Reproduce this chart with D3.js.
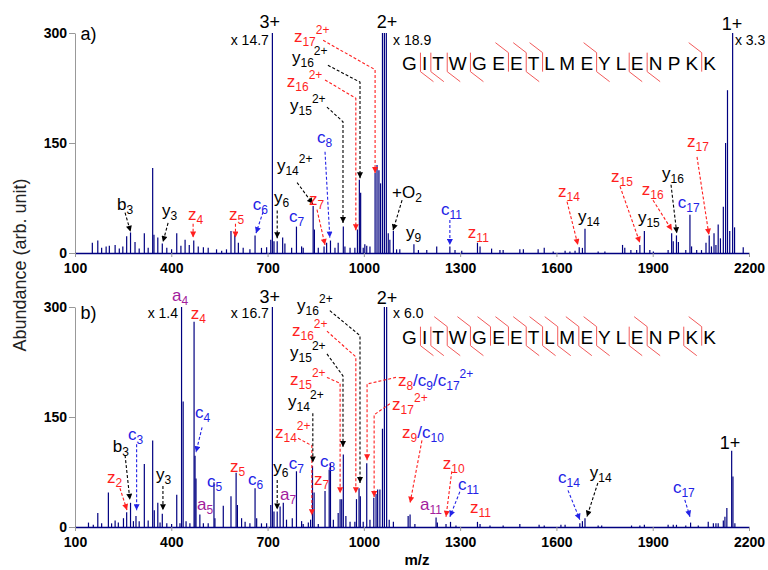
<!DOCTYPE html>
<html>
<head>
<meta charset="utf-8">
<script src="https://cdn.jsdelivr.net/npm/d3@7"></script>
<style>
  body { margin: 0; background: #fff; }
  text { font-family: "Liberation Sans", Arial, sans-serif; }
</style>
</head>
<body>
<div id="chart"></div>
<script>
// axis values
const ticksX = [100, 400, 700, 1000, 1300, 1600, 1900, 2200];
const ticksY = [0, 150, 300];
const sequence = "GITWGEETLMEYLENPKK";

// spectrum a) : [m/z, abundance]
const peaksA = [
  [154,14],[171,17],[183,7],[197,9],[207,10],[225,11],[238,6],[249,9],[261,23],[273,28],[287,15],[300,6],
  [316,27],[328,7],[342,116],[346,25],[358,21],[372,13],[386,7],[401,5],[417,27],[430,10],[443,18],[456,11],
  [470,17],[484,9],[500,8],[515,7],[541,5],[557,3],[572,5],[586,30],[598,25],[609,14],[624,7],[645,5],
  [661,24],[681,7],[697,8],[710,18],[715,300],[720,16],[730,16],[747,21],[754,13],[775,7],[790,36],[806,9],
  [811,7],[842,64],[846,32],[858,7],[876,9],[884,14],[896,17],[910,7],[920,14],[936,36],[941,9],[957,7],
  [972,7],[980,32],[986,100],[990,82],[998,7],[1003,12],[1009,10],[1019,9],[1035,109],[1041,120],[1047,113],
  [1052,95],[1058,300],[1064,300],[1070,300],[1076,27],[1081,18],[1092,30],[1102,5],[1112,5],[1156,12],
  [1170,4],[1196,4],[1227,9],[1268,9],[1284,4],[1305,3],[1354,14],[1362,9],[1398,6],[1424,4],[1434,4],
  [1486,5],[1497,5],[1543,5],[1562,7],[1590,2],[1627,3],[1642,2],[1658,3],[1671,8],[1681,7],[1689,33],
  [1730,2],[1751,2],[1806,11],[1813,7],[1832,4],[1850,4],[1860,11],[1874,30],[1891,4],[1902,2],[1948,4],
  [1959,27],[1964,16],[1974,24],[1980,15],[2003,4],[2016,52],[2021,9],[2037,4],[2052,4],[2066,14],[2076,24],
  [2083,9],[2091,27],[2097,11],[2104,39],[2111,20],[2120,63],[2127,150],[2133,222],[2140,30],[2149,300],
  [2155,35],[2182,8]
];

// spectrum b)
const peaksB = [
  [142,6],[157,3],[171,19],[183,5],[204,47],[214,5],[225,9],[235,6],[251,12],[261,20],[273,33],[282,8],
  [290,15],[300,8],[316,86],[328,9],[342,118],[347,23],[358,33],[365,6],[372,18],[386,5],[401,4],[417,44],
  [427,5],[432,300],[437,171],[446,8],[458,5],[471,280],[474,97],[477,66],[489,17],[500,5],[515,5],[533,61],
  [536,12],[562,29],[586,42],[602,74],[606,30],[619,12],[630,7],[645,5],[661,53],[666,12],[681,5],[697,5],
  [710,30],[715,300],[720,21],[730,21],[739,28],[749,33],[759,10],[777,12],[790,76],[806,8],[811,4],[827,6],
  [834,10],[840,83],[845,47],[858,4],[879,49],[892,78],[896,87],[905,10],[920,19],[926,38],[931,38],[936,99],
  [944,15],[957,7],[972,7],[977,38],[985,53],[989,42],[998,7],[1009,87],[1019,10],[1031,40],[1038,45],
  [1043,51],[1050,51],[1058,134],[1064,300],[1071,300],[1079,10],[1092,7],[1138,15],[1144,17],[1159,4],
  [1225,13],[1229,6],[1256,4],[1270,7],[1287,2],[1354,7],[1362,4],[1393,2],[1434,2],[1486,4],[1546,3],
  [1562,2],[1614,3],[1627,3],[1673,5],[1681,8],[1689,12],[1730,2],[1741,2],[1834,2],[1860,2],[1874,3],
  [1948,3],[1964,3],[1974,3],[2003,2],[2018,6],[2042,2],[2073,7],[2089,5],[2097,5],[2104,5],[2120,9],
  [2125,14],[2131,26],[2146,104],[2150,69],[2156,5]
];

// fragment labels: [label, m/z, abundance, arrow points]
const ionsA = [
  ["b_3", 231, 59, [[256,55],[273,29]]],
  ["y_3", 371, 50, [[390,41],[374,15]]],
  ["z_4", 452, 45, [[468,40],[468,21]]],
  ["z_5", 580, 45, [[600,40],[600,21]]],
  ["c_6", 654, 59, [[686,56],[664,27]]],
  ["y_6", 720, 68, [[730,58],[730,20]]],
  ["c_7", 767, 42, []],
  ["c_8", 854, 150, [[879,138],[894,21]]],
  ["y_14^2+", 729, 112, [[792,96],[841,67]]],
  ["z_7", 829, 66, [[854,59],[879,11]]],
  ["y_15^2+", 770, 194, [[885,199],[935,179],[935,41]]],
  ["z_16^2+", 760, 226, [[879,236],[975,211],[975,31]]],
  ["y_16^2+", 776, 259, [[888,256],[988,233],[988,102]]],
  ["z_17^2+", 782, 288, [[873,290],[1035,250],[1035,109]]],
  ["+O_2", 1088, 75, [[1119,72],[1091,31]]],
  ["y_9", 1131, 20, []],
  ["c_11", 1240, 52, [[1268,45],[1268,11]]],
  ["z_11", 1324, 20, []],
  ["z_14", 1605, 76, [[1633,70],[1667,11]]],
  ["y_14", 1667, 42, []],
  ["z_15", 1770, 97, [[1798,91],[1860,14]]],
  ["y_15", 1854, 41, []],
  ["z_16", 1866, 79, [[1901,72],[1960,31]]],
  ["y_16", 1929, 101, [[1957,93],[1975,27]]],
  ["c_17", 1978, 61, []],
  ["z_17", 2007, 145, [[2038,131],[2075,25]]]
];

const ionsB = [
  ["a_4", 402, 308, []],
  ["z_4", 461, 284, []],
  ["c_4", 474, 148, [[496,136],[477,102]]],
  ["c_3", 265, 118, [[292,113],[292,23]]],
  ["b_3", 218, 102, [[256,98],[271,37]]],
  ["z_2", 200, 60, [[240,53],[262,23]]],
  ["y_3", 352, 64, [[374,56],[374,23]]],
  ["a_5", 480, 23, []],
  ["c_5", 511, 54, []],
  ["z_5", 583, 75, []],
  ["c_6", 639, 57, []],
  ["c_7", 766, 79, []],
  ["y_6", 718, 73, [[730,64],[730,24]]],
  ["a_7", 739, 37, []],
  ["c_8", 863, 82, []],
  ["z_7", 845, 57, []],
  ["z_14^2+", 723, 121, [[795,121],[838,111],[838,16]]],
  ["y_14^2+", 764, 164, [[841,155],[841,88]]],
  ["z_15^2+", 770, 193, [[885,204],[926,196],[926,46]]],
  ["y_15^2+", 770, 231, [[885,236],[935,206],[935,109]]],
  ["z_16^2+", 776, 261, [[885,267],[975,232],[975,46]]],
  ["y_16^2+", 792, 295, [[894,295],[988,261],[988,60]]],
  ["z_8/c_9/c_17^2+", 1106, 192, [[1100,204],[1010,195],[1010,91]]],
  ["z_17^2+", 1088, 160, [[1081,168],[1032,153],[1032,41]]],
  ["z_9/c_10", 1119, 121, [[1181,118],[1144,33]]],
  ["z_10", 1246, 79, [[1274,76],[1256,14]]],
  ["c_11", 1293, 51, [[1299,48],[1268,14]]],
  ["a_11", 1175, 23, []],
  ["z_11", 1331, 19, []],
  ["c_14", 1605, 60, [[1636,50],[1673,10]]],
  ["y_14", 1704, 67, [[1729,60],[1695,14]]],
  ["c_17", 1963, 46, [[2000,37],[2016,14]]]
];

// charge states and scale factors: [text, m/z, abundance, side]
const chargesA = [["3+",707,307,"m"],["x 14.7",704,284,"e"],["2+",1072,307,"m"],["x 18.9",1091,284,"s"],
                  ["1+",2147,304,"m"],["x 3.3",2156,284,"s"]];
const chargesB = [["x 1.4",421,285,"e"],["3+",707,305,"m"],["x 16.7",704,285,"e"],["2+",1072,304,"m"],
                  ["x 6.0",1091,285,"s"],["1+",2141,107,"m"]];

// cleavage sites in the sequence (gap n = after residue n)
const cGapsA = [6, 7, 8, 11, 17];
const zGapsA = [1, 2, 3, 4, 7, 11, 13, 14];
const cGapsB = [3, 4, 5, 6, 7, 8, 9, 10, 11, 14, 17];
const zGapsB = [1, 2, 3, 4, 7, 8, 9, 10, 11, 13, 14, 16];

const svg = d3.select("#chart").append("svg")
    .attr("width", 768).attr("height", 570);
svg.append("rect").attr("width", 768).attr("height", 570).attr("fill", "#fff");

const x = d3.scaleLinear().domain([100, 2200]).range([75, 749]);

const RED = "#ff1f1f", BLUE = "#2222e6", PURPLE = "#a3209c", NAVY = "#000080";
function colorOf(s) {
    let k = s.replace(/[\/+]/g, "")[0];
    if (k == "z") return RED;
    if (k == "c") return BLUE;
    if (k == "a") return PURPLE;
    return "#000";
}

// arrow heads
let defs = svg.append("defs");
[["red", RED], ["blue", BLUE], ["black", "#000"]].forEach(function (m) {
    defs.append("marker")
        .attr("id", "head-" + m[0])
        .attr("viewBox", "0 0 10 10")
        .attr("refX", 10).attr("refY", 5)
        .attr("markerUnits", "userSpaceOnUse")
        .attr("markerWidth", 7).attr("markerHeight", 6)
        .attr("orient", "auto")
        .append("path").attr("d", "M0,0L10,5L0,10z").attr("fill", m[1]);
});
function headOf(col) {
    return col == RED ? "head-red" : col == BLUE ? "head-blue" : "head-black";
}

function drawPanel(y0, peaks, ions, charges, cGaps, zGaps, tag) {
    let y = d3.scaleLinear().domain([0, 300]).range([y0, y0 - 220]);
    let g = svg.append("g");

    // y axis
    let ya = g.append("g")
        .attr("transform", "translate(" + x(100) + ",0)")
        .call(d3.axisLeft(y).tickValues(ticksY).tickSize(6).tickSizeOuter(0).tickPadding(2));
    ya.select(".domain").attr("stroke", "#999");
    ya.selectAll(".tick line").attr("stroke", "#999");
    ya.selectAll("text").style("font-size", "14px").style("font-weight", "bold").attr("fill", "#000");

    // x axis
    let xa = g.append("g")
        .attr("transform", "translate(0," + y0 + ")")
        .call(d3.axisBottom(x).tickValues(ticksX).tickFormat(d3.format("d"))
            .tickSize(4).tickSizeOuter(0).tickPadding(6));
    xa.select(".domain").attr("stroke", NAVY).attr("stroke-width", 1.4);
    xa.selectAll(".tick line").attr("stroke", "#999");
    xa.selectAll("text").style("font-size", "14px").style("font-weight", "bold").attr("fill", "#000");

    // peaks
    g.append("g").selectAll("line")
        .data(peaks)
        .enter()
        .append("line")
        .attr("x1", d => x(d[0])).attr("x2", d => x(d[0]))
        .attr("y1", y(0)).attr("y2", d => y(Math.min(d[1], 300)))
        .attr("stroke", NAVY).attr("stroke-width", 1.2);

    // panel tag
    g.append("text").attr("x", x(117)).attr("y", y(tag[1]))
        .style("font-size", "18px").text(tag[0]);

    // charge states
    charges.forEach(function (c) {
        let big = c[0].indexOf("x") < 0;
        g.append("text")
            .attr("x", x(c[1])).attr("y", y(c[2]))
            .attr("text-anchor", c[3] == "m" ? "middle" : c[3] == "e" ? "end" : "start")
            .style("font-size", big ? "18px" : "14px")
            .text(c[0]);
    });

    // arrows
    let line = d3.line().x(d => x(d[0])).y(d => y(d[1]));
    ions.forEach(function (ion) {
        if (ion[3].length < 2) return;
        let col = colorOf(ion[0]);
        g.append("path")
            .attr("d", line(ion[3]))
            .attr("fill", "none")
            .attr("stroke", col)
            .attr("stroke-width", 1.1)
            .attr("stroke-dasharray", "3,2")
            .attr("marker-end", "url(#" + headOf(col) + ")");
    });

    // fragment labels
    ions.forEach(function (ion) {
        let t = g.append("text").attr("x", x(ion[1])).attr("y", y(ion[2]));
        let off = 0;
        function seg(txt, size, target, col) {
            t.append("tspan").text(txt).attr("dy", target - off)
                .style("font-size", size + "px").attr("fill", col);
            off = target;
        }
        let re = /(\/?\+?[A-Za-z]+)(?:_(\d+))?(?:\^(\d\+))?/g, m;
        while ((m = re.exec(ion[0])) !== null) {
            let col = colorOf(m[1]);
            seg(m[1], 17, 0, col);
            if (m[2]) seg(m[2], 12, 4, col);
            if (m[3]) seg(m[3], 12, -8, col);
        }
    });

    // sequence with cleavage marks
    let seqT = g.append("text")
        .attr("x", x(1119)).attr("y", y(250))
        .style("font-size", "19px")
        .text(sequence.split("").join(" "));
    let node = seqT.node();
    let base = y(250);
    function gapX(n) {
        let e = node.getEndPositionOfChar(2 * (n - 1)).x;
        let s = node.getStartPositionOfChar(2 * n).x;
        return (e + s) / 2 + 1;
    }
    let sites = d3.union(cGaps, zGaps);
    sites.forEach(function (n) {
        let bx = gapX(n);
        let pts = [[bx, base - 17], [bx, base + 2]];
        if (cGaps.includes(n)) pts.unshift([bx - 13, base - 27]);
        if (zGaps.includes(n)) pts.push([bx + 13, base + 12]);
        g.append("path")
            .attr("d", d3.line()(pts))
            .attr("fill", "none")
            .attr("stroke", "#f25a5a")
            .attr("stroke-width", 1);
    });
}

drawPanel(253, peaksA, ionsA, chargesA, cGapsA, zGapsA, ["a)", 290]);
drawPanel(527, peaksB, ionsB, chargesB, cGapsB, zGapsB, ["b)", 284]);

// axis titles
svg.append("text")
    .attr("transform", "translate(26,265) rotate(-90)")
    .attr("text-anchor", "middle")
    .style("font-size", "18px")
    .attr("fill", "#222")
    .text("Abundance (arb. unit)");

svg.append("text")
    .attr("x", 417).attr("y", 565)
    .attr("text-anchor", "middle")
    .style("font-size", "15px").style("font-weight", "bold")
    .text("m/z");
</script>
</body>
</html>
